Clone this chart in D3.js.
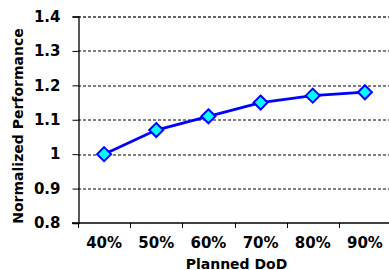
<!DOCTYPE html>
<html>
<head>
<meta charset="utf-8">
<script src="https://cdn.jsdelivr.net/npm/d3@7"></script>
<style>
  body { margin: 0; background: #fff; }
  text { font-family: "DejaVu Sans", sans-serif; font-weight: bold; fill: #000; }
</style>
</head>
<body>
<div id="chart"></div>
<script>
// data
var categories = ["40%", "50%", "60%", "70%", "80%", "90%"];
var perf = [1.0, 1.07, 1.11, 1.15, 1.17, 1.18];
var yTicks = [0.8, 0.9, 1, 1.1, 1.2, 1.3, 1.4];

var W = 389, H = 270;
var margin = {top: 16.5, right: -2, bottom: 47, left: 78};
var width = W - margin.left - margin.right,
    height = H - margin.top - margin.bottom;

var svg = d3.select("#chart")
    .append("svg")
    .attr("width", W)
    .attr("height", H)
    .append("g")
    .attr("transform", `translate(${margin.left}, ${margin.top})`);

var x = d3.scaleBand()
    .domain(categories)
    .range([0, width]);

var y = d3.scaleLinear()
    .domain([0.8, 1.4])
    .range([height, 0]);

// dashed gridlines
svg.append("g")
    .selectAll("line")
    .data(yTicks.filter(d => d > 0.8))
    .enter()
    .append("line")
    .attr("x1", 0)
    .attr("x2", width)
    .attr("y1", d => Math.round(y(d)) + 0.5)
    .attr("y2", d => Math.round(y(d)) + 0.5)
    .attr("stroke", d => d === 1.4 ? "#333" : "#000")
    .attr("stroke-width", d => d === 1.4 ? 1.5 : 1)
    .attr("stroke-dasharray", "3,2");

// y axis
var yAxis = svg.append("g")
    .attr("transform", "translate(0.5,0)")
    .call(d3.axisLeft(y).tickValues(yTicks).tickSize(6).tickPadding(12)
        .tickFormat(d => d === 1 ? "1" : d3.format(".1f")(d)));
yAxis.select(".domain").attr("stroke", "#000").attr("stroke-width", 1.3);
yAxis.selectAll("text").style("font-size", "15px");

// x axis, ticks on the category boundaries
var xAxis = svg.append("g")
    .attr("transform", `translate(0, ${height})`);
xAxis.append("line")
    .attr("x1", -6)
    .attr("x2", width)
    .attr("stroke", "#000")
    .attr("stroke-width", 1.3);
xAxis.selectAll(".bt")
    .data(categories)
    .enter()
    .append("line")
    .attr("x1", d => Math.round(x(d)) + 0.5)
    .attr("x2", d => Math.round(x(d)) + 0.5)
    .attr("y1", 0)
    .attr("y2", 5)
    .attr("stroke", "#000");
xAxis.selectAll(".lab")
    .data(categories)
    .enter()
    .append("text")
    .attr("x", d => x(d) + x.bandwidth() / 2)
    .attr("y", 25)
    .style("text-anchor", "middle")
    .style("font-size", "15px")
    .text(d => d);

// axis titles
svg.append("text")
    .attr("transform", `translate(${236.5 - margin.left}, ${268.5 - margin.top})`)
    .style("text-anchor", "middle")
    .style("font-size", "14px")
    .text("Planned DoD");

svg.append("text")
    .attr("transform", `translate(${22.5 - margin.left}, ${126 - margin.top}) rotate(-90)`)
    .style("text-anchor", "middle")
    .style("font-size", "14px")
    .text("Normalized Performance");

// line
var line = d3.line()
    .x((d, i) => x(categories[i]) + x.bandwidth() / 2)
    .y(d => y(d));

svg.append("path")
    .datum(perf)
    .attr("d", line)
    .attr("fill", "none")
    .attr("stroke", "#0000ff")
    .attr("stroke-width", 2.8);

// diamond markers
svg.append("g")
    .selectAll("path")
    .data(perf)
    .enter()
    .append("path")
    .attr("transform", (d, i) => `translate(${x(categories[i]) + x.bandwidth() / 2}, ${y(d)})`)
    .attr("d", "M0,-7L7,0L0,7L-7,0Z")
    .attr("fill", "#00ffff")
    .attr("stroke", "#0000ff")
    .attr("stroke-width", 2);
</script>
</body>
</html>
